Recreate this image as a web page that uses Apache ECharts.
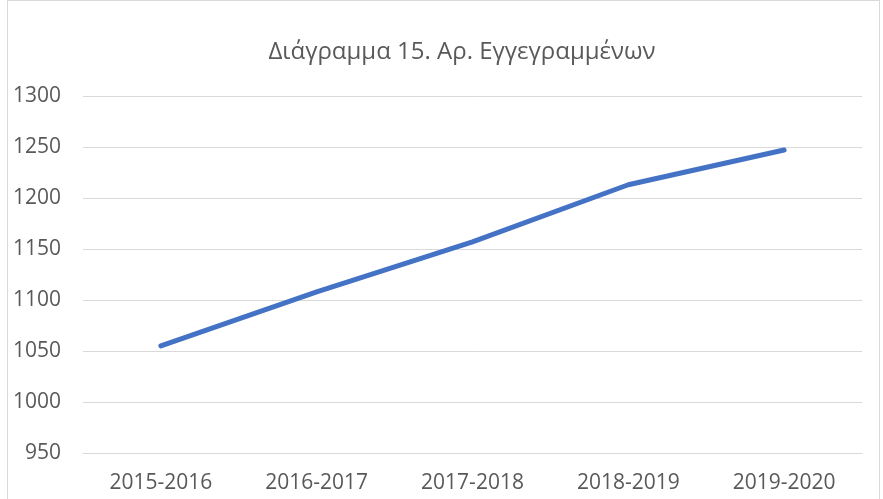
<!DOCTYPE html>
<html>
<head>
<meta charset="utf-8">
<title>Διάγραμμα 15</title>
<script src="https://cdn.jsdelivr.net/npm/echarts@6/dist/echarts.min.js"></script>
<style>
  html, body { margin: 0; padding: 0; background: #fff; }
  #frame {
    position: absolute; left: 7px; top: 0; width: 873px; height: 520px;
    border: 1px solid #d9d9d9; box-sizing: border-box;
  }
  #chart { position: absolute; left: 0; top: 0; width: 883px; height: 499px; }
</style>
</head>
<body>
<div id="frame"></div>
<div id="chart"></div>
<script>
// data
var years = ['2015-2016', '2016-2017', '2017-2018', '2018-2019', '2019-2020'];
var enrolled = [1055, 1108, 1157, 1213, 1247];

var textColor = '#595959';
var chart = echarts.init(document.getElementById('chart'));

chart.setOption({
  animation: false,
  title: {
    text: 'Διάγραμμα 15. Αρ. Εγγεγραμμένων',
    left: 457,
    top: 35,
    textAlign: 'center',
    textStyle: { color: textColor, fontSize: 24, fontWeight: 'normal', fontFamily: 'Open Sans' }
  },
  grid: { left: 83, right: 21, top: 96, bottom: 46 },
  xAxis: {
    type: 'category',
    data: years,
    boundaryGap: true,
    axisLine: { show: true, lineStyle: { color: '#d9d9d9', width: 1 } },
    axisTick: { show: false },
    axisLabel: { color: textColor, fontSize: 21, fontFamily: 'Open Sans', margin: 20 }
  },
  yAxis: {
    type: 'value',
    min: 950,
    max: 1300,
    interval: 50,
    axisLine: { show: false },
    axisTick: { show: false },
    axisLabel: {
      color: textColor, fontSize: 21, fontFamily: 'Open Sans', margin: 22,
      formatter: function (v) { return String(v); }
    },
    splitLine: { lineStyle: { color: '#d9d9d9', width: 1 } }
  },
  series: [{
    type: 'line',
    data: enrolled,
    symbol: 'none',
    lineStyle: { color: '#4472C4', width: 5, cap: 'round', join: 'round' }
  }]
});
</script>
</body>
</html>
